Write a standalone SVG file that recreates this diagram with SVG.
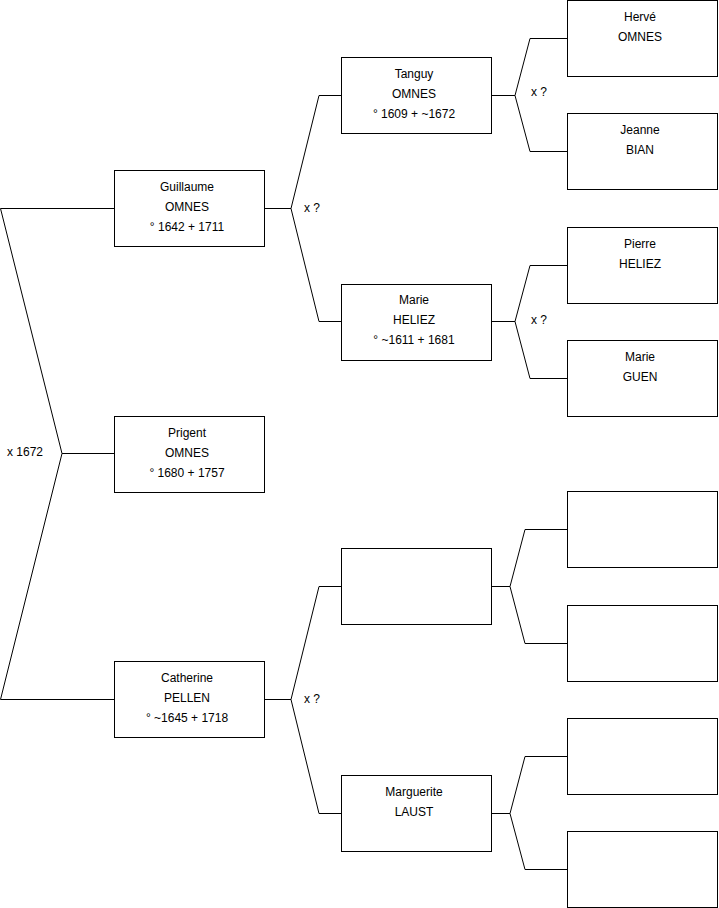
<svg xmlns="http://www.w3.org/2000/svg" width="719" height="908" viewBox="0 0 719 908">
<style>
.box{fill:#fff;stroke:#000;stroke-width:1}
.ln{fill:none;stroke:#000;stroke-width:1}
text{font-family:"Liberation Sans",Arial,sans-serif;font-size:12px;fill:#000}
.c{text-anchor:middle}
</style>
<rect width="719" height="908" fill="#fff"/>
<g id="connectors">
<polyline class="ln" points="114,208.5 0.5,208.5 62,453.5 0.5,699.5 114,699.5"/>
<line class="ln" x1="62" y1="453.5" x2="114" y2="453.5"/>
<polyline class="ln" points="341,95.5 319,95.5 291,208.5 319,321.5 341,321.5"/>
<line class="ln" x1="265" y1="208.5" x2="291" y2="208.5"/>
<polyline class="ln" points="341,586.5 319,586.5 291,699.5 319,813.5 341,813.5"/>
<line class="ln" x1="265" y1="699.5" x2="291" y2="699.5"/>
<polyline class="ln" points="567,38.5 530,38.5 515,95.5 530,151.5 567,151.5"/>
<line class="ln" x1="492" y1="95.5" x2="515" y2="95.5"/>
<polyline class="ln" points="567,265.5 530,265.5 515,321.5 530,378.5 567,378.5"/>
<line class="ln" x1="492" y1="321.5" x2="515" y2="321.5"/>
<polyline class="ln" points="567,529.5 525,529.5 510,586.5 525,643.5 567,643.5"/>
<line class="ln" x1="492" y1="586.5" x2="510" y2="586.5"/>
<polyline class="ln" points="567,756.5 525,756.5 510,813.5 525,869.5 567,869.5"/>
<line class="ln" x1="492" y1="813.5" x2="510" y2="813.5"/>
<text x="7" y="456">x 1672</text>
<text x="304" y="212">x ?</text>
<text x="304" y="703">x ?</text>
<text x="531" y="96">x ?</text>
<text x="531" y="324">x ?</text>
</g>
<g id="guillaume"><rect class="box" x="114.5" y="170.5" width="150" height="76"/><text class="c" x="187" y="191">Guillaume</text><text class="c" x="187" y="211">OMNES</text><text class="c" x="187" y="231">° 1642 + 1711</text></g>
<g id="prigent"><rect class="box" x="114.5" y="416.5" width="150" height="76"/><text class="c" x="187" y="437">Prigent</text><text class="c" x="187" y="457">OMNES</text><text class="c" x="187" y="477">° 1680 + 1757</text></g>
<g id="catherine"><rect class="box" x="114.5" y="661.5" width="150" height="76"/><text class="c" x="187" y="682">Catherine</text><text class="c" x="187" y="702">PELLEN</text><text class="c" x="187" y="722">° ~1645 + 1718</text></g>
<g id="tanguy"><rect class="box" x="341.5" y="57.5" width="150" height="76"/><text class="c" x="414" y="78">Tanguy</text><text class="c" x="414" y="98">OMNES</text><text class="c" x="414" y="118">° 1609 + ~1672</text></g>
<g id="marie-heliez"><rect class="box" x="341.5" y="284.5" width="150" height="76"/><text class="c" x="414" y="304">Marie</text><text class="c" x="414" y="324">HELIEZ</text><text class="c" x="414" y="344">° ~1611 + 1681</text></g>
<g id="blank-father"><rect class="box" x="341.5" y="548.5" width="150" height="76"/></g>
<g id="marguerite"><rect class="box" x="341.5" y="775.5" width="150" height="76"/><text class="c" x="414" y="796">Marguerite</text><text class="c" x="414" y="816">LAUST</text></g>
<g id="herve"><rect class="box" x="567.5" y="0.5" width="150" height="76"/><text class="c" x="640" y="21">Hervé</text><text class="c" x="640" y="41">OMNES</text></g>
<g id="jeanne"><rect class="box" x="567.5" y="113.5" width="150" height="76"/><text class="c" x="640" y="134">Jeanne</text><text class="c" x="640" y="154">BIAN</text></g>
<g id="pierre"><rect class="box" x="567.5" y="227.5" width="150" height="76"/><text class="c" x="640" y="248">Pierre</text><text class="c" x="640" y="268">HELIEZ</text></g>
<g id="marie-guen"><rect class="box" x="567.5" y="340.5" width="150" height="76"/><text class="c" x="640" y="361">Marie</text><text class="c" x="640" y="381">GUEN</text></g>
<g id="blank1"><rect class="box" x="567.5" y="491.5" width="150" height="76"/></g>
<g id="blank2"><rect class="box" x="567.5" y="605.5" width="150" height="76"/></g>
<g id="blank3"><rect class="box" x="567.5" y="718.5" width="150" height="76"/></g>
<g id="blank4"><rect class="box" x="567.5" y="831.5" width="150" height="76"/></g>
</svg>
